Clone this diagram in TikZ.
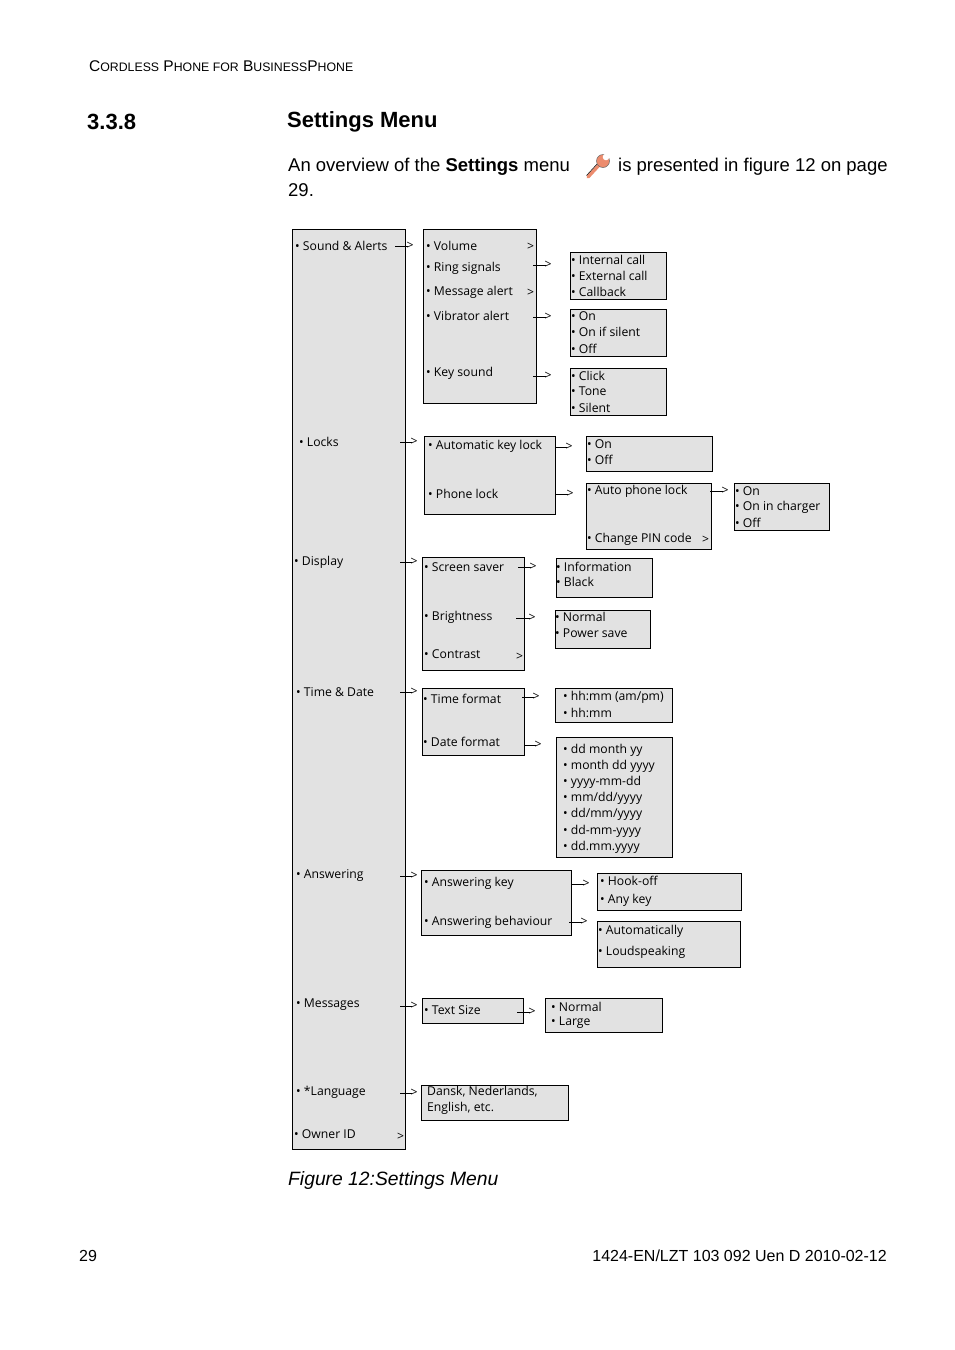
\documentclass[tikz,border=0pt]{standalone}
\usepackage{fontspec}
\setmainfont{Liberation Sans}
\newfontfamily\menufont{Open Sans}
\usetikzlibrary{positioning}
\definecolor{boxgray}{RGB}{226,226,226}
\definecolor{wrench}{RGB}{236,140,110}
\tikzset{
  menubox/.style={draw=black,fill=boxgray,line width=0.8pt},
  item/.style={anchor=west,inner sep=0pt,font=\menufont\fontsize{12.2}{14}\selectfont},
  more/.style={anchor=west,inner sep=0pt,font=\menufont\fontsize{12.2}{14}\selectfont},
}
% arrow: short line followed by a ">"
\newcommand{\menuarr}[3]{\draw[line width=0.6pt] (#1,#3) -- (#2,#3);
  \node[more] at (#2-1.5,#3-0.5) {>};}
\newcommand{\bul}{\textbullet\ }
\begin{document}
\begin{tikzpicture}[x=1pt,y=-1pt]
\useasboundingbox (0,0) rectangle (954,1350);

% page text
\node[anchor=west,inner sep=0pt,font=\fontsize{15.5}{18}\selectfont] (head) at (89,66)
  {C{\fontsize{12.3}{14}\selectfont ORDLESS} P{\fontsize{12.3}{14}\selectfont HONE FOR} B{\fontsize{12.3}{14}\selectfont USINESS}P{\fontsize{12.3}{14}\selectfont HONE}};
\node[anchor=west,inner sep=0pt,font=\bfseries\fontsize{22}{26}\selectfont] (secno) at (87,122) {3.3.8};
\node[anchor=west,inner sep=0pt,font=\bfseries\fontsize{22}{26}\selectfont] (sectitle) at (287,122) {Settings Menu};
\node[anchor=west,inner sep=0pt,font=\fontsize{18.5}{22}\selectfont] (intro) at (288,167)
  {An overview of the \textbf{Settings} menu};
\node[anchor=west,inner sep=0pt,font=\fontsize{18.5}{22}\selectfont] (introb) at (618,167)
  {is presented in figure 12 on page};
\node[anchor=west,inner sep=0pt,font=\fontsize{18.5}{22}\selectfont] (intro2) at (288,190) {29.};
% wrench icon
\draw[line width=3.4pt,wrench,line cap=round] (588,177) -- (600,164);
\draw[line width=0.5pt] (586.5,175.5) -- (598.5,162.5);
\draw[fill=wrench,draw=black!60,line width=0.5pt] (603,161) circle (6.5);
\fill[white] (606,157) circle (3.3);
\node[anchor=west,inner sep=0pt,font=\itshape\fontsize{19.3}{22}\selectfont] (caption) at (288,1180) {Figure 12:Settings Menu};
\node[anchor=west,inner sep=0pt,font=\fontsize{16}{19}\selectfont] (pageno) at (79,1256) {29};
\node[anchor=east,inner sep=0pt,font=\fontsize{16}{19}\selectfont] (docid) at (887,1256) {1424-EN/LZT 103 092 Uen D 2010-02-12};

% main column
\draw[menubox] (292,229) rectangle (405,1149);
\node[item] (snd) at (295,246) {\bul Sound \& Alerts};
\node[item] (lck) at (299,442) {\bul Locks};
\node[item] (dsp) at (294,562) {\bul Display};
\node[item] (tim) at (296,692) {\bul Time \& Date};
\node[item] (ans) at (296,875) {\bul Answering};
\node[item] (msg) at (296,1005) {\bul Messages};
\node[item] (lng) at (296,1092) {\bul *Language};
\node[item] (own) at (294,1134) {\bul Owner ID};
\node[more] at (397,1137) {>};
\menuarr{395}{408}{246}
\menuarr{400}{412}{442}
\menuarr{400}{412}{562}
\menuarr{400}{412}{692}
\menuarr{400}{412}{876}
\menuarr{400}{412}{1006}
\menuarr{400}{412}{1093}

% sound & alerts
\draw[menubox] (423,229) rectangle (536,403);
\node[item] at (426,246) {\bul Volume};
\node[item] at (426,268) {\bul Ring signals};
\node[item] at (426,292) {\bul Message alert};
\node[item] at (426,316) {\bul Vibrator alert};
\node[item] at (426,373) {\bul Key sound};
\node[more] at (527,247) {>};
\node[more] at (527,293) {>};
\menuarr{533}{546}{265}
\menuarr{533}{546}{317}
\menuarr{533}{546}{376}
\draw[menubox] (570,252) rectangle (666,299);
\node[item] at (571,260) {\bul Internal call};
\node[item] at (571,276) {\bul External call};
\node[item] at (571,292) {\bul Callback};
\draw[menubox] (570,309) rectangle (666,356);
\node[item] at (571,316) {\bul On};
\node[item] at (571,332) {\bul On if silent};
\node[item] at (571,349) {\bul Off};
\draw[menubox] (570,368) rectangle (666,415);
\node[item] at (571,376) {\bul Click};
\node[item] at (571,391) {\bul Tone};
\node[item] at (571,408) {\bul Silent};

% locks
\draw[menubox] (424,436) rectangle (555,514);
\node[item] at (428,446) {\bul Automatic key lock};
\node[item] at (428,494) {\bul Phone lock};
\menuarr{555}{567}{447}
\menuarr{555}{568}{494}
\draw[menubox] (586,436) rectangle (712,471);
\node[item] at (587,444) {\bul On};
\node[item] at (587,460) {\bul Off};
\draw[menubox] (586,483) rectangle (711,549);
\node[item] at (587,491) {\bul Auto phone lock};
\node[item] at (587,539) {\bul Change PIN code};
\node[more] at (702,540) {>};
\menuarr{710}{723}{491}
\draw[menubox] (734,483) rectangle (829,530);
\node[item] at (735,491) {\bul On};
\node[item] at (735,507) {\bul On in charger};
\node[item] at (735,523) {\bul Off};

% display
\draw[menubox] (422,557) rectangle (524,670);
\node[item] at (424,567) {\bul Screen saver};
\node[item] at (424,617) {\bul Brightness};
\node[item] at (424,654) {\bul Contrast};
\node[more] at (516,657) {>};
\menuarr{518}{531}{567}
\menuarr{516}{530}{618}
\draw[menubox] (556,558) rectangle (652,597);
\node[item] at (556,567) {\bul Information};
\node[item] at (556,582) {\bul Black};
\draw[menubox] (555,610) rectangle (650,648);
\node[item] at (555,617) {\bul Normal};
\node[item] at (555,633) {\bul Power save};

% time & date
\draw[menubox] (422,688) rectangle (524,755);
\node[item] at (423,699) {\bul Time format};
\node[item] at (423,742) {\bul Date format};
\menuarr{522}{534}{697}
\menuarr{524}{536}{745}
\draw[menubox] (555,688) rectangle (672,722);
\node[item] at (563,697) {\bul hh:mm (am/pm)};
\node[item] at (563,713) {\bul hh:mm};
\draw[menubox] (556,737) rectangle (672,857);
\node[item] at (563,750) {\bul dd month yy};
\node[item] at (563,766) {\bul month dd yyyy};
\node[item] at (563,782) {\bul yyyy-mm-dd};
\node[item] at (563,798) {\bul mm/dd/yyyy};
\node[item] at (563,814) {\bul dd/mm/yyyy};
\node[item] at (563,831) {\bul dd-mm-yyyy};
\node[item] at (563,847) {\bul dd.mm.yyyy};

% answering
\draw[menubox] (421,870) rectangle (571,935);
\node[item] at (424,883) {\bul Answering key};
\node[item] at (424,922) {\bul Answering behaviour};
\menuarr{571}{584}{884}
\menuarr{569}{582}{922}
\draw[menubox] (597,873) rectangle (741,910);
\node[item] at (600,881) {\bul Hook-off};
\node[item] at (600,900) {\bul Any key};
\draw[menubox] (597,921) rectangle (740,967);
\node[item] at (598,931) {\bul Automatically};
\node[item] at (598,952) {\bul Loudspeaking};

% messages
\draw[menubox] (422,998) rectangle (523,1023);
\node[item] at (424,1010) {\bul Text Size};
\menuarr{517}{530}{1012}
\draw[menubox] (545,998) rectangle (662,1032);
\node[item] at (551,1007) {\bul Normal};
\node[item] at (551,1023) {\bul Large};

% language
\draw[menubox] (421,1085) rectangle (568,1120);
\node[item] at (427,1092) {Dansk, Nederlands,};
\node[item] at (427,1108) {English, etc.};
\end{tikzpicture}
\end{document}
